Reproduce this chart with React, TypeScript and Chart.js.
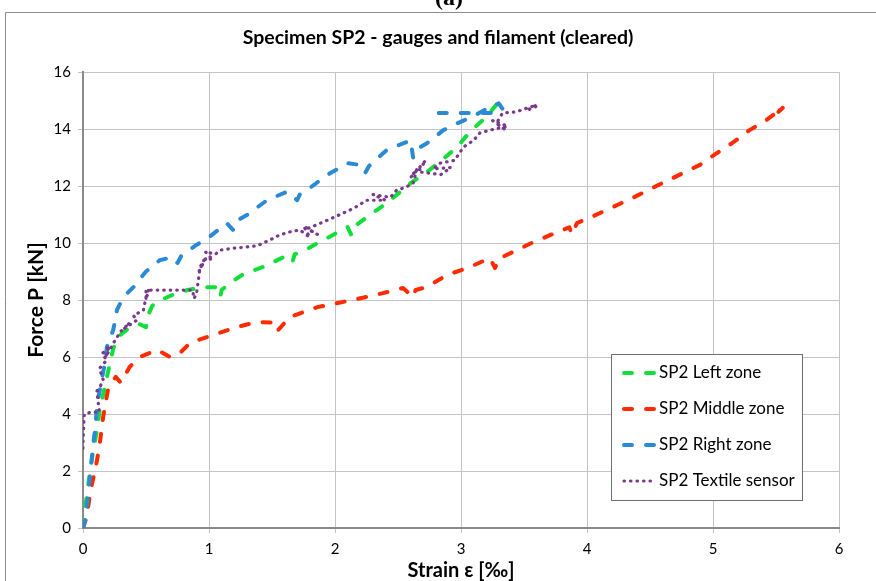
import React, { useEffect, useRef } from "react";
import { Chart, registerables } from "chart.js";

Chart.register(...registerables);

const FONT = "Lato, 'Liberation Sans', sans-serif";

const chartTitle = "Specimen SP2 - gauges and filament (cleared)";
const xAxisTitle = "Strain ε [‰]";
const yAxisTitle = "Force P [kN]";
const panelLabel = "(a)";

const xTickValues = [0, 1, 2, 3, 4, 5, 6];
const yTickValues = [0, 2, 4, 6, 8, 10, 12, 14, 16];

const seriesLabels = ["SP2 Left zone", "SP2 Middle zone", "SP2 Right zone", "SP2 Textile sensor"];
const seriesColors = ["#12DE3A", "#FF2A00", "#2A8BD4", "#7A3A8C"];

const leftStrain = [0, 0.02, 0.05, 0.08, 0.11, 0.13, 0.17, 0.2, 0.24, 0.29, 0.36, 0.45, 0.5, 0.52, 0.55, 0.62, 0.72, 0.83, 0.95, 1.05, 1.09, 1.1, 1.17, 1.27, 1.43, 1.59, 1.66, 1.68, 1.79, 1.94, 2.1, 2.13, 2.16, 2.25, 2.41, 2.52, 2.6, 2.75, 2.86, 2.97, 3.07, 3.2, 3.29];
const leftForce = [0, 0.8, 1.8, 2.7, 3.4, 4.07, 4.9, 5.5, 6.3, 6.75, 7.0, 7.15, 7.05, 7.5, 7.8, 8.0, 8.2, 8.35, 8.45, 8.45, 8.1, 8.35, 8.6, 8.9, 9.16, 9.5, 9.3, 9.6, 9.82, 10.18, 10.56, 10.28, 10.6, 10.9, 11.4, 11.8, 12.1, 12.56, 12.95, 13.37, 13.9, 14.42, 14.9];

const middleStrain = [0, 0.03, 0.06, 0.1, 0.13, 0.16, 0.2, 0.23, 0.26, 0.3, 0.37, 0.45, 0.59, 0.69, 0.77, 0.85, 1.03, 1.22, 1.38, 1.54, 1.55, 1.64, 1.86, 2.14, 2.38, 2.54, 2.62, 2.64, 2.73, 2.89, 3.05, 3.23, 3.27, 3.3, 3.41, 3.56, 3.72, 3.86, 3.88, 3.92, 4.02, 4.2, 4.37, 4.55, 4.76, 4.9, 5.03, 5.15, 5.29, 5.42, 5.56, 5.52, 5.57];
const middleForce = [0, 0.4, 1.33, 2.1, 2.85, 3.9, 4.9, 5.1, 5.3, 5.1, 5.65, 6.0, 6.25, 6.0, 6.14, 6.5, 6.77, 7.05, 7.23, 7.2, 6.95, 7.4, 7.75, 8.0, 8.24, 8.42, 8.1, 8.35, 8.46, 8.88, 9.12, 9.47, 9.12, 9.45, 9.68, 10.0, 10.3, 10.55, 10.3, 10.7, 10.88, 11.25, 11.6, 12.0, 12.45, 12.75, 13.15, 13.5, 13.96, 14.3, 14.77, 14.6, 14.9];

const rightStrain = [0, 0.02, 0.04, 0.06, 0.08, 0.1, 0.11, 0.14, 0.17, 0.19, 0.24, 0.27, 0.32, 0.4, 0.5, 0.61, 0.71, 0.75, 0.78, 0.9, 1.0, 1.14, 1.19, 1.21, 1.3, 1.46, 1.62, 1.7, 1.72, 1.8, 1.94, 2.1, 2.2, 2.24, 2.27, 2.41, 2.6, 2.62, 2.65, 2.73, 2.86, 2.97, 3.1, 3.22, 3.3, 3.33, 3.3, 3.1, 2.78];
const rightForce = [0, 0.3, 1.16, 2.0, 2.9, 3.6, 4.3, 5.0, 5.7, 6.35, 6.95, 7.65, 8.1, 8.45, 9.0, 9.4, 9.5, 9.3, 9.55, 9.93, 10.2, 10.7, 10.46, 10.75, 10.98, 11.5, 11.8, 11.5, 11.7, 11.93, 12.39, 12.8, 12.74, 12.46, 12.7, 13.26, 13.6, 13.0, 13.3, 13.5, 13.96, 14.2, 14.45, 14.75, 14.9, 14.7, 14.56, 14.56, 14.56];

const textileStrain = [0, 0, 0.01, 0.07, 0.13, 0.11, 0.14, 0.16, 0.13, 0.19, 0.15, 0.21, 0.18, 0.25, 0.3, 0.37, 0.33, 0.43, 0.4, 0.48, 0.5, 0.52, 0.5, 0.5, 0.7, 0.87, 0.88, 0.9, 0.93, 0.96, 0.92, 0.98, 1.03, 0.97, 1.05, 1.09, 1.2, 1.3, 1.38, 1.48, 1.56, 1.65, 1.72, 1.8, 1.75, 1.86, 1.78, 1.94, 2.04, 2.12, 2.18, 2.25, 2.4, 2.3, 2.44, 2.49, 2.56, 2.62, 2.65, 2.6, 2.72, 2.66, 2.84, 2.92, 2.78, 2.83, 2.95, 3.02, 3.1, 3.15, 3.23, 3.37, 3.25, 3.36, 3.28, 3.33, 3.44, 3.5, 3.6, 3.52, 3.6];
const textileForce = [2.8, 3.0, 4.0, 4.07, 4.05, 4.8, 5.0, 5.2, 5.6, 5.9, 6.1, 6.4, 6.0, 6.55, 6.9, 7.2, 7.0, 7.3, 7.45, 7.65, 8.1, 8.35, 8.0, 8.35, 8.35, 8.35, 8.05, 8.2, 9.16, 9.4, 9.0, 9.5, 9.4, 9.7, 9.6, 9.75, 9.82, 9.86, 9.9, 10.1, 10.28, 10.4, 10.46, 10.2, 10.6, 10.3, 10.5, 10.8, 11.0, 11.16, 11.3, 11.5, 11.5, 11.7, 11.6, 11.86, 11.95, 12.1, 12.6, 12.3, 12.9, 12.5, 12.4, 12.65, 12.6, 12.8, 12.9, 13.37, 13.6, 13.86, 13.96, 14.1, 14.3, 13.95, 14.2, 14.56, 14.6, 14.7, 14.84, 14.65, 14.8];

const DASH = [8, 14];
const DOT = [0.5, 6];

function toPoints(xs: number[], ys: number[]) {
  return xs.map((x, i) => ({ x, y: ys[i] }));
}

const decorPlugin = {
  id: "decor",
  beforeDraw(chart: any) {
    const { ctx, width, height } = chart;
    ctx.save();
    ctx.fillStyle = "#ffffff";
    ctx.fillRect(0, 0, width, height);
    // frame
    ctx.strokeStyle = "#8c8c8c";
    ctx.lineWidth = 1;
    ctx.beginPath();
    ctx.moveTo(5.5, height);
    ctx.lineTo(5.5, 12.5);
    ctx.lineTo(width, 12.5);
    ctx.stroke();
    // panel label
    ctx.fillStyle = "#000";
    ctx.font = "bold 24px 'Liberation Serif', 'DejaVu Serif', serif";
    ctx.textAlign = "center";
    ctx.textBaseline = "alphabetic";
    ctx.fillText(panelLabel, 449, 5);
    // title
    ctx.font = `bold 19.5px ${FONT}`;
    ctx.textBaseline = "middle";
    ctx.fillText(chartTitle, 438, 38);
    // axis titles
    const area = chart.chartArea;
    ctx.font = `bold 20px ${FONT}`;
    ctx.fillText(xAxisTitle, (area.left + area.right) / 2, 571);
    ctx.save();
    ctx.translate(36, (area.top + area.bottom) / 2);
    ctx.rotate(-Math.PI / 2);
    ctx.font = `bold 21px ${FONT}`;
    ctx.fillText(yAxisTitle, 0, 0);
    ctx.restore();
    ctx.restore();
  },
  afterDraw(chart: any) {
    const { ctx } = chart;
    ctx.save();
    const bx = 611.5, by = 354.5, bw = 191, bh = 146;
    ctx.fillStyle = "#ffffff";
    ctx.fillRect(bx, by, bw, bh);
    ctx.strokeStyle = "#6e6e6e";
    ctx.lineWidth = 1;
    ctx.strokeRect(bx, by, bw, bh);
    chart.data.datasets.forEach((ds: any, i: number) => {
      const cy = 373 + i * 36;
      ctx.save();
      ctx.strokeStyle = ds.borderColor;
      ctx.lineWidth = ds.borderWidth;
      ctx.lineCap = "round";
      ctx.setLineDash(ds.borderDash);
      ctx.beginPath();
      ctx.moveTo(624, cy);
      ctx.lineTo(656, cy);
      ctx.stroke();
      ctx.restore();
      ctx.fillStyle = "#000";
      ctx.font = `17px ${FONT}`;
      ctx.textAlign = "left";
      ctx.textBaseline = "middle";
      ctx.fillText(ds.label, 659, cy);
    });
    ctx.restore();
  },
};

export default function App() {
  const ref = useRef<HTMLCanvasElement | null>(null);

  useEffect(() => {
    if (!ref.current) return;
    const styles = [
      { dash: DASH, width: 4, order: 3 },
      { dash: DASH, width: 4, order: 2 },
      { dash: DASH, width: 4, order: 1 },
      { dash: DOT, width: 3.2, order: 0 },
    ];
    const series = [
      toPoints(leftStrain, leftForce),
      toPoints(middleStrain, middleForce),
      toPoints(rightStrain, rightForce),
      toPoints(textileStrain, textileForce),
    ];
    const chart = new Chart(ref.current, {
      type: "scatter",
      data: {
        datasets: series.map((data, i) => ({
          label: seriesLabels[i],
          data,
          showLine: true,
          borderColor: seriesColors[i],
          backgroundColor: seriesColors[i],
          borderWidth: styles[i].width,
          borderDash: styles[i].dash,
          borderCapStyle: "round",
          borderJoinStyle: "round",
          pointRadius: 0,
          tension: 0,
          order: styles[i].order,
        })),
      },
      plugins: [decorPlugin],
      options: {
        responsive: false,
        animation: false,
        events: [],
        layout: { padding: { left: 0, right: 37, top: 72, bottom: 0 } },
        plugins: {
          legend: { display: false },
          title: { display: false },
          tooltip: { enabled: false },
        },
        scales: {
          x: {
            type: "linear",
            min: 0,
            max: 6,
            afterFit: (s: any) => {
              s.height = 53;
            },
            afterBuildTicks: (s: any) => {
              s.ticks = xTickValues.map((v) => ({ value: v }));
            },
            ticks: {
              font: { family: FONT, size: 15 },
              color: "#000",
              padding: 7,
            },
            grid: { color: "#c4c4c4", lineWidth: 1, tickLength: 5 },
            border: { color: "#8a8a8a", width: 2 },
          },
          y: {
            type: "linear",
            min: 0,
            max: 16,
            afterFit: (s: any) => {
              s.width = 83;
            },
            afterBuildTicks: (s: any) => {
              s.ticks = yTickValues.map((v) => ({ value: v }));
            },
            ticks: {
              font: { family: FONT, size: 15 },
              color: "#000",
              padding: 7,
            },
            grid: { color: "#c4c4c4", lineWidth: 1, tickLength: 5 },
            border: { color: "#8a8a8a", width: 2 },
          },
        },
      },
    } as any);
    return () => chart.destroy();
  }, []);

  return (
    <div style={{ position: "absolute", left: 0, top: 0, width: 876, height: 581, background: "#fff" }}>
      <canvas ref={ref} width={876} height={581} style={{ display: "block" }} />
    </div>
  );
}
